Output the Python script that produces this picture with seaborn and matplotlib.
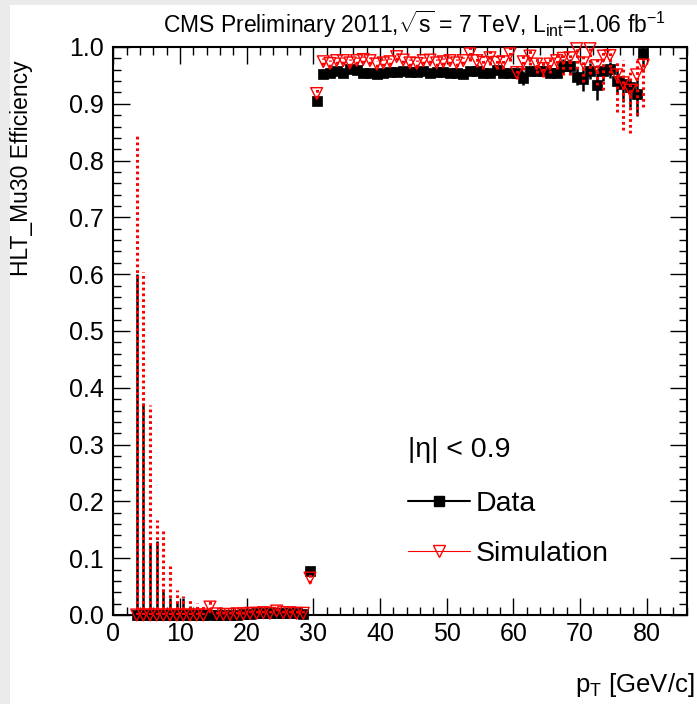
import numpy as np
import pandas as pd
import matplotlib
matplotlib.use("Agg")
import matplotlib.pyplot as plt
import seaborn as sns
from matplotlib.lines import Line2D
from matplotlib.patches import Rectangle
from matplotlib.ticker import MultipleLocator, FormatStrFormatter


# -----------------------------
# DATA (1 GeV bins, centres 3.5 ... 79.5)
# -----------------------------
pt = np.arange(3.5, 80.0, 1.0)

data_eff = [
    0, 0, 0, 0, 0, 0, 0, 0, 0, 0,
    0, 0, 0, 0, 0, 0, 0.001, 0.002, 0.003, 0.003,
    0.004, 0.003, 0.004, 0.004, 0.003, 0.002,
    0.078, 0.905,
    0.952, 0.954, 0.957, 0.954, 0.961, 0.959, 0.955, 0.954, 0.952, 0.954,
    0.956, 0.956, 0.957, 0.956, 0.956, 0.957, 0.955, 0.956, 0.956, 0.955,
    0.954, 0.953, 0.958, 0.957, 0.954, 0.954, 0.960, 0.955, 0.955, 0.955,
    0.945, 0.957, 0.958, 0.957, 0.955, 0.955, 0.966, 0.966, 0.948, 0.943,
    0.957, 0.933, 0.958, 0.962, 0.941, 0.934, 0.929, 0.918, 0.990,
]
data_lo = [0.0] * 26 + [0.005, 0.006] + [0.004] * 30 + [0.012] + [0.008] * 5 + [
    0.012, 0.012, 0.015, 0.020, 0.014, 0.027, 0.018, 0.016, 0.022, 0.030,
    0.034, 0.040, 0.025,
]
data_hi = [
    0.600, 0.374, 0.125, 0.130, 0.046, 0.030, 0.023, 0.030, 0.016, 0.012,
    0.010, 0.008, 0.007, 0.006, 0.006, 0.005, 0.005, 0.005, 0.005, 0.005,
    0.005, 0.005, 0.005, 0.005, 0.005, 0.005,
] + [0.005, 0.006] + [0.004] * 30 + [0.012] + [0.008] * 5 + [
    0.012, 0.012, 0.015, 0.018, 0.014, 0.022, 0.012, 0.012, 0.020, 0.015,
    0.013, 0.024, 0.008,
]

sim_eff = [
    0, 0, 0, 0, 0, 0, 0, 0, 0, 0,
    0, 0.014, 0.002, 0.001, 0.001, 0.002, 0.002, 0.003, 0.003, 0.004,
    0.003, 0.007, 0.004, 0.004, 0.003, 0.003,
    0.065, 0.918,
    0.974, 0.971, 0.976, 0.976, 0.972, 0.976, 0.978, 0.976, 0.970, 0.972,
    0.974, 0.983, 0.977, 0.972, 0.971, 0.976, 0.977, 0.972, 0.974, 0.976,
    0.972, 0.976, 0.988, 0.976, 0.973, 0.981, 0.973, 0.974, 0.988, 0.955,
    0.974, 0.984, 0.970, 0.962, 0.970, 0.976, 0.980, 0.981, 0.997, 0.972,
    0.997, 0.967, 0.984, 0.985, 0.951, 0.937, 0.924, 0.951, 0.968,
]
sim_lo = [0.0] * 11 + [0.006] + [0.0] * 14 + [0.008, 0.008] + [0.006] * 22 + [0.012] * 8 + [0.015] * 6 + [
    0.030, 0.030, 0.035, 0.033, 0.045, 0.034, 0.060, 0.030, 0.065, 0.083,
    0.076, 0.071, 0.073,
]
sim_hi = [
    0.843, 0.603, 0.369, 0.168, 0.153, 0.086, 0.044, 0.033, 0.030, 0.022,
    0.016, 0.010,
] + [0.006] * 14 + [0.008, 0.008] + [0.006] * 22 + [0.012] * 8 + [0.015] * 6 + [
    0.012, 0.012, 0.001, 0.017, 0.001, 0.015, 0.012, 0.012, 0.026, 0.040,
    0.038, 0.026, 0.012,
]

df = pd.DataFrame({"pt": pt, "data": data_eff, "sim": sim_eff})


# -----------------------------
# STYLE
# -----------------------------
sns.set_style("ticks")
plt.rcParams["font.family"] = ["Liberation Sans", "DejaVu Sans"]
plt.rcParams["text.color"] = "black"
plt.rcParams["mathtext.fontset"] = "custom"
plt.rcParams["mathtext.rm"] = "Liberation Sans"
plt.rcParams["mathtext.it"] = "Liberation Sans:italic"

fig = plt.figure(figsize=(6.97, 7.04), dpi=100, facecolor="#ebebeb")
fig.patches.append(Rectangle((10 / 697, 0), 1, 1 - 5 / 704, transform=fig.transFigure,
                             facecolor="white", edgecolor="none", zorder=-10))
ax = fig.add_axes([113.3 / 697, 89 / 704, 574 / 697, 568 / 704])
ax.set_zorder(1)
ax.set_facecolor("white")


# -----------------------------
# DATA (black squares, solid bars)
# -----------------------------
ax.errorbar(df["pt"], df["data"], yerr=[data_lo, data_hi], fmt="none",
            ecolor="black", elinewidth=1.8, capsize=0, zorder=2)
sns.scatterplot(data=df, x="pt", y="data", marker="s", s=60, color="black",
                edgecolor="black", linewidth=0.5, ax=ax, zorder=3, clip_on=False)

# -----------------------------
# SIMULATION (red open triangles, dotted bars)
# -----------------------------
eb = ax.errorbar(df["pt"], df["sim"], yerr=[sim_lo, sim_hi], fmt="none",
                 ecolor="red", elinewidth=2.2, capsize=0, zorder=4)
eb[2][0].set_linestyle((0, (0.9, 1.0)))
sns.scatterplot(data=df, x="pt", y="sim", marker="v", s=72, facecolor="none",
                edgecolor="red", linewidth=1.0, ax=ax, zorder=5, clip_on=False)


# -----------------------------
# AXES
# -----------------------------
ax.set_xlim(0, 86.1)
ax.set_ylim(0, 1.0)
ax.xaxis.set_major_locator(MultipleLocator(10))
ax.xaxis.set_minor_locator(MultipleLocator(2))
ax.yaxis.set_major_locator(MultipleLocator(0.1))
ax.yaxis.set_minor_locator(MultipleLocator(0.02))
ax.yaxis.set_major_formatter(FormatStrFormatter("%.1f"))
ax.tick_params(which="both", direction="in", top=True, right=True, width=1.0,
               labelsize=18, colors="black")
ax.tick_params(which="major", length=12)
ax.tick_params(which="minor", length=6)
ax.tick_params(axis="y", pad=7)
ax.tick_params(axis="x", pad=5)
for sp in ax.spines.values():
    sp.set_linewidth(1.5)
    sp.set_color("black")
ax.set_xlabel("")
ax.set_ylabel("")

fig.text(414 / 697, 1 - 33 / 704,
         r"CMS Preliminary 2011,$\sqrt{\mathrm{s}}$ = 7 TeV, L$_{\mathrm{int}}$=1.06 fb$^{-1}$",
         ha="center", va="baseline", fontsize=16.5)
fig.text(22 / 697, 1 - 60 / 704, "HLT_Mu30 Efficiency", rotation=90,
         ha="center", va="top", fontsize=16.5)
fig.text(695 / 697, 12 / 704, r"p$_{\mathrm{T}}$ [GeV/c]", ha="right",
         va="baseline", fontsize=18.5)

# -----------------------------
# LEGEND
# -----------------------------
ax.text(0.513, 0.29, "|η| < 0.9", transform=ax.transAxes, ha="left",
        va="center", fontsize=20.5)
handles = [
    Line2D([], [], color="black", lw=1.5, marker="s", markersize=7),
    Line2D([], [], color="red", lw=0.8, marker="v", markersize=8,
           markerfacecolor="none", markeredgecolor="red", markeredgewidth=1.0),
]
ax.legend(handles, ["Data", "Simulation"], loc="center left",
          bbox_to_anchor=(0.513, 0.152), frameon=False, fontsize=20.5,
          handlelength=2.18, handletextpad=0.2, labelspacing=0.85,
          borderpad=0, borderaxespad=0)

fig.savefig("out.png", dpi=100, facecolor=fig.get_facecolor())
